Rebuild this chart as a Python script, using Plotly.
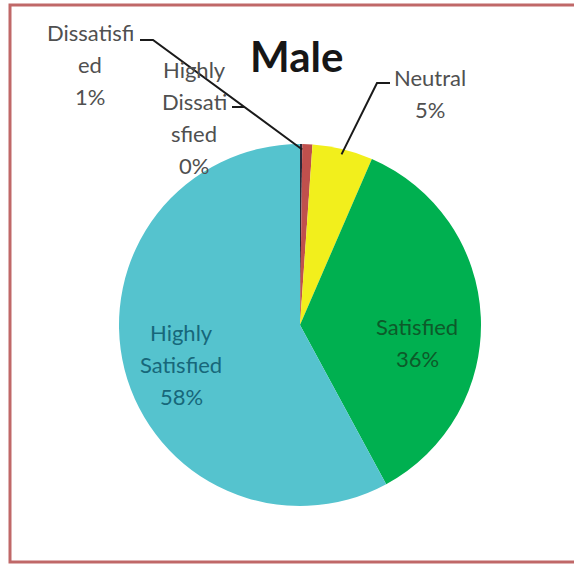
import math
import plotly.graph_objects as go

# ---- data ----
labels = ["Highly Dissatisfied", "Dissatisfied", "Neutral", "Satisfied", "Highly Satisfied"]
values = [0.2, 0.9, 5.4, 35.6, 57.9]
colors = ["#2a2a3a", "#c0504d", "#f2ef1c", "#00b050", "#55c3ce"]
# label text lines (as wrapped in the original chart)
label_lines = {
    "Highly Dissatisfied": ["Highly", "Dissati", "sfied"],
    "Dissatisfied": ["Dissatisfi", "ed"],
    "Neutral": ["Neutral"],
    "Satisfied": ["Satisfied"],
    "Highly Satisfied": ["Highly", "Satisfied"],
}
title_text = "Male"

W, H = 574, 565
CX, CY, R = 300, 325, 181   # pie centre / radius in pixels

def px(x):
    return x / W

def py(y):
    return 1 - y / H

total = sum(values)
pcts = {l: f"{round(v / total * 100):.0f}%" for l, v in zip(labels, values)}

fig = go.Figure(go.Pie(
    labels=labels, values=values, sort=False, direction="clockwise", rotation=0,
    marker=dict(colors=colors, line=dict(width=0)),
    textinfo="none", showlegend=False,
    domain=dict(x=[px(CX - R), px(CX + R)], y=[py(CY + R), py(CY - R)]),
))

FONT = "Lato"
grey = "#505050"

# label placements: centre x, first line y (px), colour
placements = {
    "Dissatisfied": (90, 33, grey),
    "Highly Dissatisfied": (194, 70, grey),
    "Neutral": (430, 78, grey),
    "Satisfied": (417, 326, "#0d5a2a"),
    "Highly Satisfied": (181, 332, "#17677a"),
}
LS = 32
ann = []
for lab, (x0, y0, col) in placements.items():
    lines = label_lines[lab] + [pcts[lab]]
    for i, t in enumerate(lines):
        ann.append(dict(x=px(x0), y=py(y0 + i * LS), xref="paper", yref="paper",
                        text=t, showarrow=False, xanchor="center", yanchor="middle",
                        font=dict(family=FONT, size=22, color=col)))

ann.append(dict(x=px(296), y=py(56), xref="paper", yref="paper", text="<b>" + title_text + "</b>",
                showarrow=False, xanchor="center", yanchor="middle",
                font=dict(family=FONT, size=42, color="#161616")))

# leader line endpoints computed from slice angles
cum = 0
mids = {}
starts = {}
for l, v in zip(labels, values):
    starts[l] = cum / total
    mids[l] = (cum + v / 2) / total
    cum += v

def rim(frac, rr=0.98):
    a = 2 * math.pi * frac
    return CX + R * rr * math.sin(a), CY - R * rr * math.cos(a)

shapes = []
def leader(points):
    d = "M " + " L ".join(f"{px(x):.5f},{py(y):.5f}" for x, y in points)
    shapes.append(dict(type="path", path=d, xref="paper", yref="paper",
                       line=dict(color="#1a1a1a", width=2)))

ex, ey = rim(starts["Dissatisfied"], 0.97)
leader([(140, 40), (153, 40), (ex, ey)])
# highly dissatisfied short tick joining main leader
t = (107 - 40) / (ey - 40)
jx = 153 + t * (ex - 153)
leader([(232, 107), (jx, 107)])
nx, ny = rim(mids["Neutral"], 0.97)
leader([(390, 83), (377, 83), (nx, ny)])

# chart border (left, top, bottom)
shapes.append(dict(type="path", path=f"M 1,{py(5)} L {px(10)},{py(5)} L {px(10)},{py(562)} L 1,{py(562)}",
                   xref="paper", yref="paper", line=dict(color="#c06868", width=3)))

fig.update_layout(width=W, height=H, margin=dict(l=0, r=0, t=0, b=0),
                  paper_bgcolor="white", plot_bgcolor="white",
                  annotations=ann, shapes=shapes)
fig.write_html("out.html", config={"displayModeBar": False},
               post_script="document.body.style.margin='0';document.body.style.overflow='hidden';")
